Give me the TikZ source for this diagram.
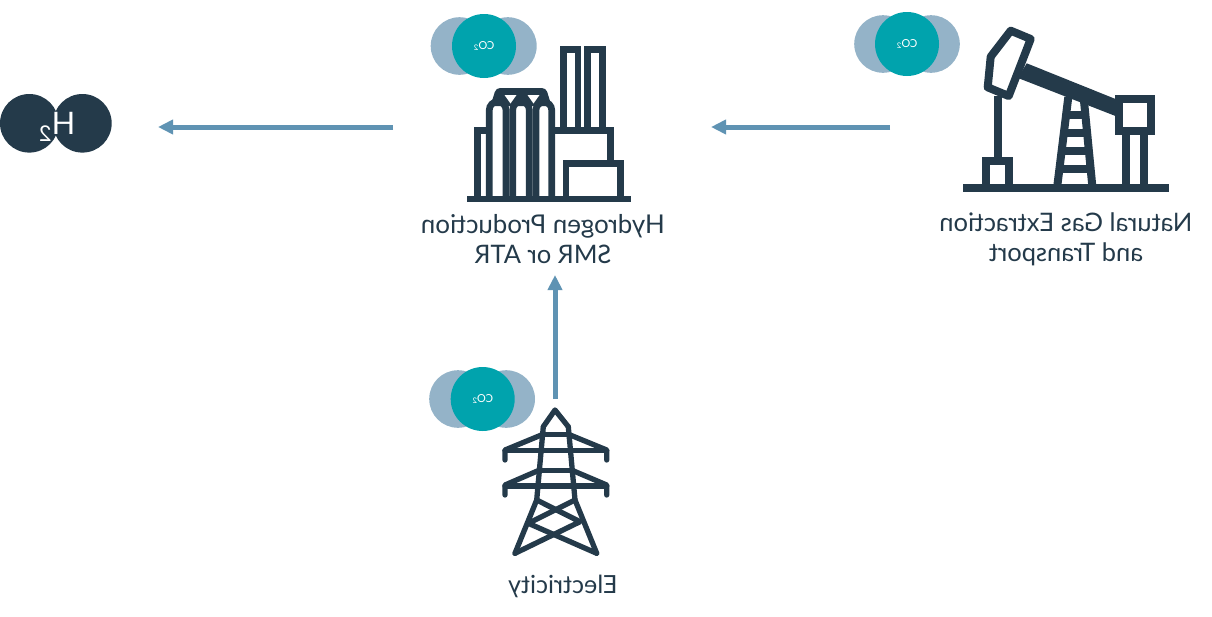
\documentclass[tikz,border=0pt]{standalone}
\usepackage{fontspec}
\setmainfont{Lato}
\usetikzlibrary{arrows.meta}
\definecolor{ink}{HTML}{243A4A}
\definecolor{flowc}{HTML}{5F93B3}
\definecolor{cloud}{HTML}{94B3C8}
\definecolor{tealc}{HTML}{00A3AD}
\tikzset{
  icon/.style={draw=ink,line width=6.7pt,line join=miter,fill=none},
  pump/.style={draw=ink,line width=8pt,line join=round,fill=none},
  mast/.style={draw=ink,line width=5.3pt,line join=round,line cap=round,fill=none},
  flow/.style={draw=flowc,line width=5pt,-{Triangle[length=15pt,width=14pt]},shorten >=0pt},
  anchorbox/.style={inner sep=0pt,outer sep=0pt,draw=none,fill=none},
  lab/.style={text=ink,font=\fontsize{25.5}{30}\selectfont,align=center,xscale=-1,inner sep=0pt},
  lobe/.style={circle,fill=cloud,draw=none,minimum size=57.6pt,inner sep=0pt},
  core/.style={circle,fill=tealc,draw=none,minimum size=64pt,inner sep=0pt,text=white,font=\fontsize{11}{13}\selectfont},
  hball/.style={circle,fill=ink,draw=none,minimum size=58.6pt,inner sep=0pt},
}
\begin{document}
\begin{tikzpicture}[x=1pt,y=-1pt]
\useasboundingbox (0,0) rectangle (1212,616);
% invisible anchors carrying the connector ends
\node[anchorbox,minimum width=280pt,minimum height=200pt] (gas) at (1030,127) {};
\node[anchorbox,minimum width=318pt,minimum height=296pt] (plant) at (552,127) {};
\node[anchorbox,minimum width=158pt,minimum height=60pt] (htwo) at (79,127) {};
\node[anchorbox,minimum width=110pt,minimum height=182pt] (tower) at (555,490) {};
% connectors
\draw[flow] (gas.west) -- (plant.east);
\draw[flow] (plant.west) -- (htwo.east);
\draw[flow] (tower.north) -- (tower.north |- plant.south);
% CO2 clouds
\node[lobe] (gl) at (883,44) {}; \node[lobe] (gr) at (931,44) {};
\node[core,xscale=-1] (gc) at (907,44) {CO\textsubscript{2}};
\node[lobe] (pl) at (459.5,46) {}; \node[lobe] (pr) at (507.9,46) {};
\node[core,xscale=-1] (pc) at (484,46) {CO\textsubscript{2}};
\node[lobe] (el) at (458,399) {}; \node[lobe] (er) at (506.2,399) {};
\node[core,xscale=-1] (ec) at (482.7,399) {CO\textsubscript{2}};
% H2
\node[hball] (ha) at (29.3,123.3) {};
\node[hball] (hb) at (82.4,123.3) {};
\node[text=white,font=\fontsize{31}{36}\selectfont,xscale=-1,inner sep=0pt] (hl) at (57,127) {H\textsubscript{2}};
% labels
\node[lab] (gaslab) at (1066,239) {Natural Gas Extraction\\and Transport};
\node[lab] (plantlab) at (543,239) {\fontsize{25.9}{30}\selectfont Hydrogen Production\\SMR or ATR};
\node[lab] (eleclab) at (563,586) {\fontsize{25}{30}\selectfont Electricity};
% pump jack
\fill[ink] (963,184) rectangle (1169,192);
\draw[pump,line join=miter] (986,188) -- (986,161) -- (1009,161) -- (1009,188);
\draw[pump,line join=miter] (998,96) -- (998,157);
\draw[pump] (1010.7,30.7) -- (1030.7,39) -- (1008.7,96) -- (987.7,87.3) -- (990.7,56.7) -- cycle;
\fill[ink] (1026.7,63.3) -- (1118,100) -- (1118,117) -- (1018,78) -- cycle;
\draw[pump,line join=miter] (1118.7,99) rectangle (1151,131);
\draw[pump,line join=miter] (1125.8,135) -- (1125.8,186);
\draw[pump,line join=miter] (1144,135) -- (1144,186);
\draw[pump,line join=miter] (1068.3,97) -- (1057.3,186);
\draw[pump,line join=miter] (1084,101) -- (1092.3,186);
\draw[pump] (1066.1,115) -- (1085.6,115);
\draw[pump] (1063.9,132.5) -- (1087.3,132.5);
\draw[pump] (1061.6,150.5) -- (1089,150.5);
\draw[pump] (1059.2,169) -- (1090.8,169);
% plant
\fill[ink] (466.7,196) rectangle (630.7,202);
\draw[icon] (563.3,130) -- (563.3,49.3) -- (578,49.3) -- (578,130);
\draw[icon] (587.7,130) -- (587.7,49.3) -- (602.3,49.3) -- (602.3,130);
\draw[icon] (552,130.7) -- (610.7,130.7) -- (610.7,162);
\draw[icon] (566,198) -- (566,163.7) -- (620.7,163.7) -- (620.7,198);
\draw[icon] (477.7,198) -- (477.7,130.7) -- (489,130.7);
% manifold above the three domes, with its two light gaps
\fill[ink,rounded corners=4pt] (490.5,106) -- (496,88) -- (546,88) -- (551.5,106) -- cycle;
\fill[white] (504.5,95) -- (516.5,95) -- (510.5,103.5) -- cycle;
\fill[white] (527.5,95) -- (539.5,95) -- (533.5,103.5) -- cycle;
% domes
\draw[icon] (489.3,198) -- (489.3,110) arc[start angle=180,end angle=0,radius=8.35pt] -- (506,198);
\draw[icon] (512.7,198) -- (512.7,110) arc[start angle=180,end angle=0,radius=8.3pt] -- (529.3,198);
\draw[icon] (536,198) -- (536,110) arc[start angle=180,end angle=0,radius=7.85pt] -- (551.7,198);
% tower
\draw[mast] (543.3,426.7) -- (555,410) -- (568.3,426.7);
\draw[mast] (543.3,426.7) -- (536.7,500) -- (515,553.3);
\draw[mast] (568.3,426.7) -- (575,500) -- (596.7,553.3);
\draw[mast] (543.3,434.3) -- (568.3,434.3);
\draw[mast] (505,450.7) -- (606.7,450.7);
\draw[mast] (505,460) -- (505,450) -- (543,434.3);
\draw[mast] (606.7,460) -- (606.7,450) -- (568.5,434.3);
\draw[mast] (540,470.7) -- (572,470.7);
\draw[mast] (505,486) -- (606.7,486);
\draw[mast] (505,495) -- (505,485) -- (538,470.7);
\draw[mast] (606.7,495) -- (606.7,485) -- (573,470.7);
\draw[mast] (536.7,500) -- (580,521.7) -- (515,553.3);
\draw[mast] (575,500) -- (528.3,523.3) -- (596.7,553.3);
\end{tikzpicture}
\end{document}
